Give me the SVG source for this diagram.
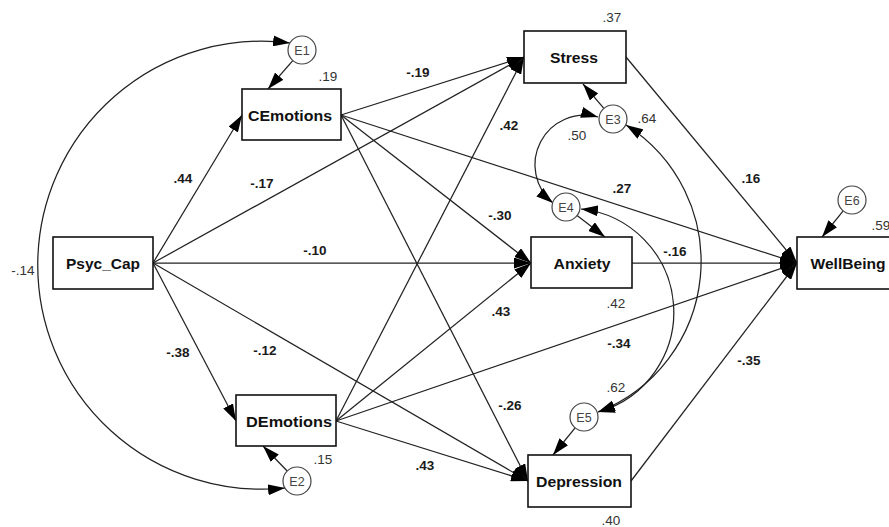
<svg xmlns="http://www.w3.org/2000/svg" width="889" height="527" viewBox="0 0 889 527">
<style>
.bg{fill:#fff}
.box{fill:#fff;stroke:#111;stroke-width:1.6}
.err{fill:#fff;stroke:#444;stroke-width:1.2}
.bl{font-family:"Liberation Sans",Arial,sans-serif;font-weight:bold;font-size:15px;fill:#111;text-anchor:middle}
.el{font-family:"Liberation Sans",Arial,sans-serif;font-size:12.5px;fill:#444;text-anchor:middle}
.cb{font-family:"Liberation Sans",Arial,sans-serif;font-weight:bold;font-size:13.5px;fill:#1a1a1a;text-anchor:middle}
.cr{font-family:"Liberation Sans",Arial,sans-serif;font-size:13.5px;fill:#333;text-anchor:middle}
.c{fill:none;stroke:#222;stroke-width:1.25;marker-end:url(#ah)}
.d{fill:none;stroke:#222;stroke-width:1.25;marker-start:url(#ahs);marker-end:url(#ah)}
</style>
<defs>
<marker id="ah" viewBox="0 0 17 11" markerWidth="17" markerHeight="11" markerUnits="userSpaceOnUse" refX="17" refY="5.5" orient="auto"><path d="M0,0 L17,5.5 L0,11 z" fill="#000"/></marker>
<marker id="ahs" viewBox="0 0 17 11" markerWidth="17" markerHeight="11" markerUnits="userSpaceOnUse" refX="17" refY="5.5" orient="auto-start-reverse"><path d="M0,0 L17,5.5 L0,11 z" fill="#000"/></marker>
</defs>
<rect class="bg" x="0" y="0" width="889" height="527"/>
<g id="connectors">
<line class="c" x1="153" y1="263" x2="242" y2="115"/>
<line class="c" x1="153" y1="263" x2="236" y2="421"/>
<line class="c" x1="153" y1="263" x2="524" y2="57"/>
<line class="c" x1="153" y1="263" x2="531" y2="263"/>
<line class="c" x1="153" y1="263" x2="528" y2="481"/>
<line class="c" x1="341" y1="115" x2="524" y2="57"/>
<line class="c" x1="341" y1="115" x2="531" y2="263"/>
<line class="c" x1="341" y1="115" x2="528" y2="481"/>
<line class="c" x1="341" y1="115" x2="797" y2="263"/>
<line class="c" x1="336" y1="421" x2="524" y2="57"/>
<line class="c" x1="336" y1="421" x2="531" y2="263"/>
<line class="c" x1="336" y1="421" x2="528" y2="481"/>
<line class="c" x1="336" y1="421" x2="797" y2="263"/>
<line class="c" x1="626" y1="57" x2="797" y2="263"/>
<line class="c" x1="632" y1="263" x2="797" y2="263"/>
<line class="c" x1="631" y1="481" x2="797" y2="263"/>
<line class="c" x1="292.8" y1="60.6" x2="268" y2="89"/>
<line class="c" x1="287.2" y1="471" x2="263" y2="446"/>
<line class="c" x1="603.9" y1="108.4" x2="583" y2="84"/>
<line class="c" x1="577.1" y1="215.5" x2="605" y2="237"/>
<line class="c" x1="575.1" y1="427.9" x2="553" y2="455"/>
<line class="c" x1="843.2" y1="210.9" x2="822" y2="237"/>
<path class="d" d="M290,43 A224,224 0 1 0 285,488"/>
<path class="d" d="M598,117 A49.6,49.6 0 0 0 553,203"/>
<path class="d" d="M626,125 A161.5,161.5 0 0 1 598,412"/>
<path class="d" d="M581,209 A103.7,103.7 0 0 1 598,412"/>
</g>
<g id="Psyc_Cap"><rect class="box" x="53" y="237" width="100" height="52"/><text class="bl" x="103" y="268.5" textLength="74" lengthAdjust="spacingAndGlyphs">Psyc_Cap</text></g>
<g id="CEmotions"><rect class="box" x="242" y="89" width="99" height="51"/><text class="bl" x="290" y="120.5" textLength="84" lengthAdjust="spacingAndGlyphs">CEmotions</text></g>
<g id="DEmotions"><rect class="box" x="236" y="395" width="100" height="51"/><text class="bl" x="289" y="426.5" textLength="86" lengthAdjust="spacingAndGlyphs">DEmotions</text></g>
<g id="Stress"><rect class="box" x="524" y="31" width="102" height="52"/><text class="bl" x="574" y="62.5" textLength="48" lengthAdjust="spacingAndGlyphs">Stress</text></g>
<g id="Anxiety"><rect class="box" x="531" y="237" width="101" height="51"/><text class="bl" x="582" y="268.5" textLength="57" lengthAdjust="spacingAndGlyphs">Anxiety</text></g>
<g id="Depression"><rect class="box" x="528" y="455" width="103" height="52"/><text class="bl" x="579" y="486.5" textLength="86" lengthAdjust="spacingAndGlyphs">Depression</text></g>
<g id="WellBeing"><rect class="box" x="797" y="237" width="103" height="52"/><text class="bl" x="848" y="268.5" textLength="75" lengthAdjust="spacingAndGlyphs">WellBeing</text></g>
<g id="E1"><circle class="err" cx="302" cy="50" r="14"/><text class="el" x="302" y="54.5">E1</text></g>
<g id="E2"><circle class="err" cx="297" cy="481" r="14"/><text class="el" x="297" y="485.5">E2</text></g>
<g id="E3"><circle class="err" cx="613" cy="119" r="14"/><text class="el" x="613" y="123.5">E3</text></g>
<g id="E4"><circle class="err" cx="566" cy="207" r="14"/><text class="el" x="566" y="211.5">E4</text></g>
<g id="E5"><circle class="err" cx="584" cy="417" r="14"/><text class="el" x="584" y="421.5">E5</text></g>
<g id="E6"><circle class="err" cx="852" cy="200" r="14"/><text class="el" x="852" y="204.5">E6</text></g>
<g id="labels">
<text class="cb" x="183" y="182.5">.44</text>
<text class="cb" x="262" y="187.5">-.17</text>
<text class="cb" x="418" y="76.5">-.19</text>
<text class="cb" x="509" y="129.5">.42</text>
<text class="cb" x="622" y="192.5">.27</text>
<text class="cb" x="751" y="182.5">.16</text>
<text class="cb" x="315" y="254.5">-.10</text>
<text class="cb" x="500" y="219.5">-.30</text>
<text class="cb" x="501" y="315.5">.43</text>
<text class="cb" x="675" y="255.5">-.16</text>
<text class="cb" x="619" y="347.5">-.34</text>
<text class="cb" x="178" y="356.5">-.38</text>
<text class="cb" x="265" y="354.5">-.12</text>
<text class="cb" x="425" y="469.5">.43</text>
<text class="cb" x="510" y="409.5">-.26</text>
<text class="cb" x="749" y="364.5">-.35</text>
<text class="cr" x="328" y="80.5">.19</text>
<text class="cr" x="612" y="21.5">.37</text>
<text class="cr" x="647" y="122.5">.64</text>
<text class="cr" x="577" y="139.5">.50</text>
<text class="cr" x="881" y="229.5">.59</text>
<text class="cr" x="23" y="274.5">-.14</text>
<text class="cr" x="616" y="307.5">.42</text>
<text class="cr" x="616" y="391.5">.62</text>
<text class="cr" x="323" y="463.5">.15</text>
<text class="cr" x="611" y="524.5">.40</text>
</g>
</svg>
